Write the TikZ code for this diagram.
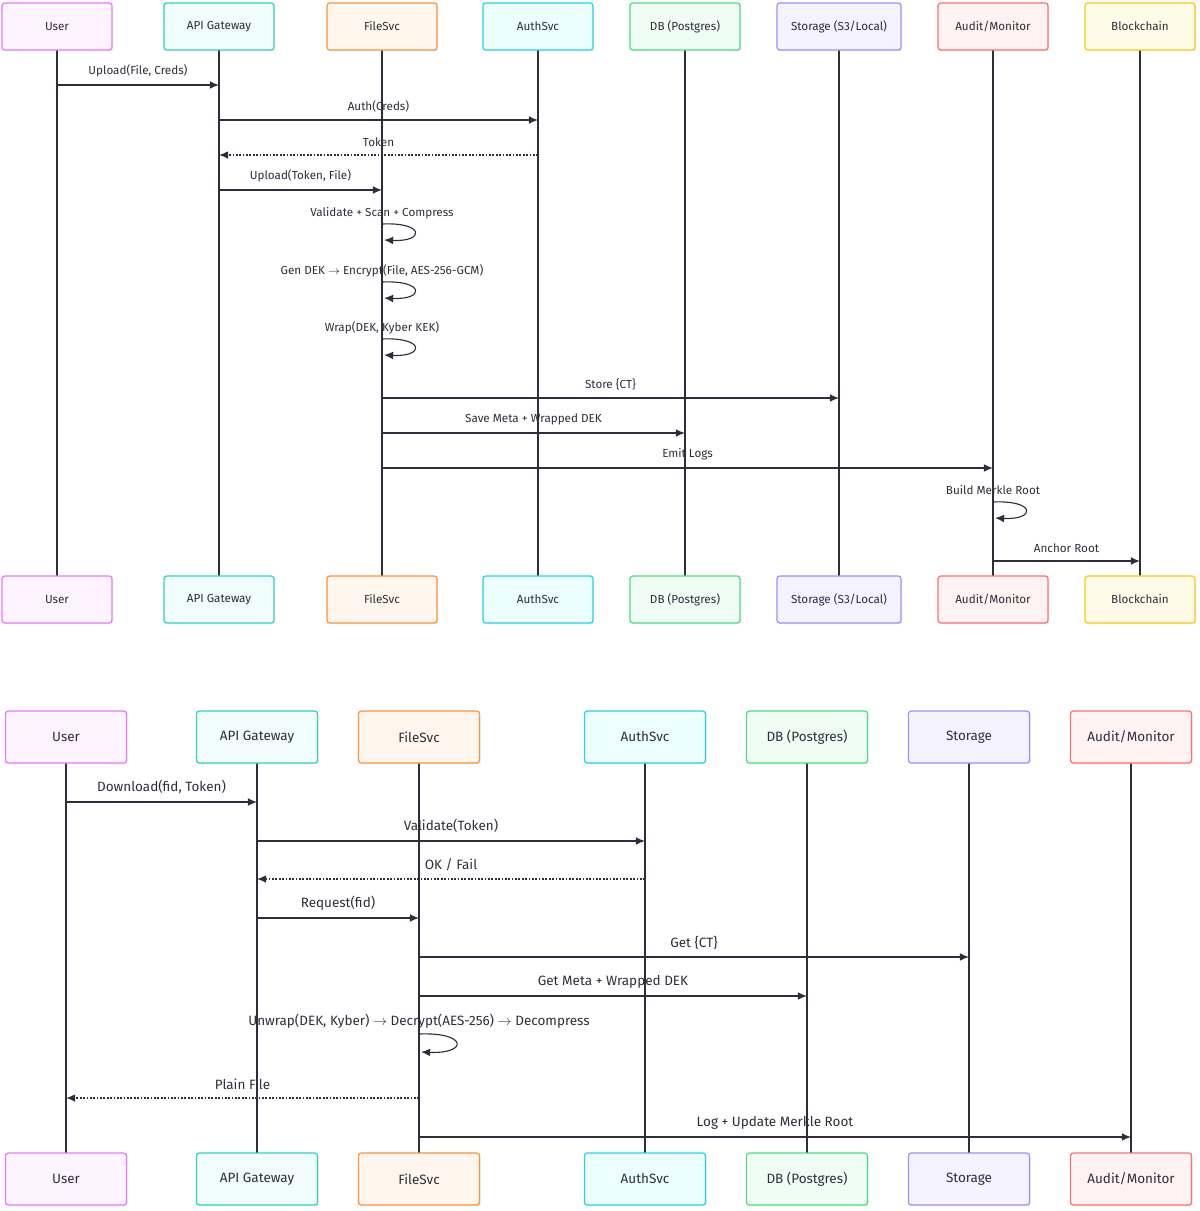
\documentclass[tikz,border=0pt]{standalone}
\usepackage{fontspec}
\setmainfont{Fira Sans}
\usepackage{tikz}
\usetikzlibrary{arrows.meta,positioning,calc,shadows}

\definecolor{ink}{HTML}{2E2E3A}
\definecolor{cUser}{HTML}{E879F9}   \definecolor{fUser}{HTML}{FDF4FF}
\definecolor{cApi}{HTML}{2DD4BF}    \definecolor{fApi}{HTML}{F0FDFA}
\definecolor{cFile}{HTML}{FB923C}   \definecolor{fFile}{HTML}{FFF7ED}
\definecolor{cAuth}{HTML}{22D3EE}   \definecolor{fAuth}{HTML}{ECFEFF}
\definecolor{cDb}{HTML}{4ADE80}     \definecolor{fDb}{HTML}{F0FDF4}
\definecolor{cSto}{HTML}{A78BFA}    \definecolor{fSto}{HTML}{F5F3FF}
\definecolor{cAud}{HTML}{F87171}    \definecolor{fAud}{HTML}{FEF2F2}
\definecolor{cChain}{HTML}{FACC15}  \definecolor{fChain}{HTML}{FEFCE8}

\begin{document}
\begin{tikzpicture}[
  x=0.025cm, y=-0.025cm,
  every node/.style={font=\fontsize{8.3}{10}\selectfont, text=ink},
  actor/.style={draw, line width=0.9pt, rounded corners=2pt, minimum width=2.75cm,
    minimum height=1.175cm, drop shadow={opacity=0.12, shadow xshift=1pt, shadow yshift=-1pt}},
  bigactor/.style={actor, minimum width=3.025cm, minimum height=1.3cm,
    font=\fontsize{9.6}{11}\selectfont},
  life/.style={draw=ink, line width=0.8pt},
  msg/.style={draw=ink, line width=0.8pt, -{Latex[length=6.5pt,width=5.5pt]}},
  reply/.style={msg, dash pattern=on 1.2pt off 1.2pt, line width=1pt},
  lab/.style={above=2pt},
  biglab/.style={above=2pt, font=\fontsize{9.6}{11}\selectfont}
]
  \useasboundingbox (0,0) rectangle (1200,1211);

  % upload flow: actors top and bottom
  \foreach \n/\x/\w/\c/\t in {u/57/2.75/User/User, a/219/2.75/Api/API Gateway, f/382/2.75/File/FileSvc,
      h/538/2.75/Auth/AuthSvc, d/685/2.75/Db/DB (Postgres), s/839/3.1/Sto/{Storage (S3/Local)},
      m/993/2.75/Aud/{Audit/Monitor}, b/1140/2.75/Chain/Blockchain} {
    \draw[life] (\x,50) -- (\x,576);
    \node[actor, draw=c\c, fill=f\c, minimum width=\w cm] (\n T) at (\x,26.5) {\t};
    \node[actor, draw=c\c, fill=f\c, minimum width=\w cm] (\n B) at (\x,599.5) {\t};
  }

  % upload flow: messages
  \draw[msg] (uT |- 0,85) -- node[lab] {Upload(File, Creds)} (aT |- 0,85);
  \draw[msg] (aT |- 0,120) -- node[lab] {Auth(Creds)} (hT |- 0,120);
  \draw[reply] (hT |- 0,155) -- node[lab] {Token} (aT |- 0,155);
  \draw[msg] (aT |- 0,190) -- node[lab] {Upload(Token, File)} (fT |- 0,190);
  \foreach \y/\t in {232/Validate + Scan + Compress,
      290/Gen DEK $\rightarrow$ Encrypt(File{,} AES-256-GCM),
      347/Wrap(DEK{,} Kyber KEK)} {
    \node[lab] at (382,\y-5) {\t};
    \draw[msg] (382,\y-8) .. controls (425,\y-10) and (425,\y+10) .. (384,\y+8);
  }
  \draw[msg] (fT |- 0,398) -- node[lab, pos=0.5] {Store \{CT\}} (sT |- 0,398);
  \draw[msg] (fT |- 0,433) -- node[lab] {Save Meta + Wrapped DEK} (dT |- 0,433);
  \draw[msg] (fT |- 0,468) -- node[lab] {Emit Logs} (mT |- 0,468);
  \node[lab] at (993,502) {Build Merkle Root};
  \draw[msg] (993,502) .. controls (1036,500) and (1036,520) .. (995,518);
  \draw[msg] (mT |- 0,561) -- node[lab] {Anchor Root} (bT |- 0,561);

  % download flow: actors top and bottom
  \foreach \n/\x/\c/\t in {u/66/User/User, a/257/Api/API Gateway, f/419/File/FileSvc,
      h/645/Auth/AuthSvc, d/807/Db/DB (Postgres), s/969/Sto/Storage,
      m/1131/Aud/{Audit/Monitor}} {
    \draw[life] (\x,763) -- (\x,1153);
    \node[bigactor, draw=c\c, fill=f\c] (\n D) at (\x,737) {\t};
    \node[bigactor, draw=c\c, fill=f\c] (\n E) at (\x,1179) {\t};
  }

  % download flow: messages
  \draw[msg] (uD |- 0,802) -- node[biglab] {Download(fid, Token)} (aD |- 0,802);
  \draw[msg] (aD |- 0,841) -- node[biglab] {Validate(Token)} (hD |- 0,841);
  \draw[reply] (hD |- 0,879) -- node[biglab] {OK / Fail} (aD |- 0,879);
  \draw[msg] (aD |- 0,918) -- node[biglab] {Request(fid)} (fD |- 0,918);
  \draw[msg] (fD |- 0,957) -- node[biglab] {Get \{CT\}} (sD |- 0,957);
  \draw[msg] (fD |- 0,996) -- node[biglab] {Get Meta + Wrapped DEK} (dD |- 0,996);
  \node[biglab] at (419,1036) {Unwrap(DEK, Kyber) $\rightarrow$ Decrypt(AES-256) $\rightarrow$ Decompress};
  \draw[msg] (419,1034) .. controls (468,1032) and (468,1054) .. (421,1052);
  \draw[reply] (fD |- 0,1098) -- node[biglab] {Plain File} (uD |- 0,1098);
  \draw[msg] (fD |- 0,1137) -- node[biglab] {Log + Update Merkle Root} (mD |- 0,1137);
\end{tikzpicture}
\end{document}
